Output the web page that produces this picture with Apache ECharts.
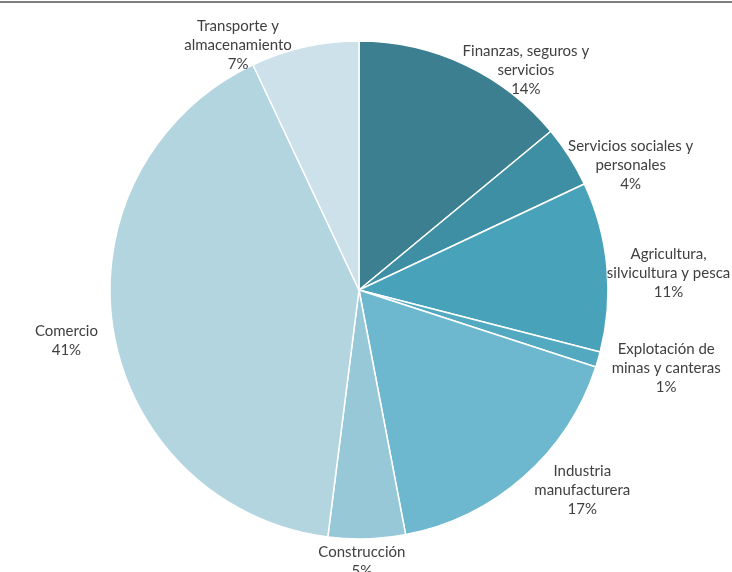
<!DOCTYPE html>
<html>
<head>
<meta charset="utf-8">
<script src="https://cdn.jsdelivr.net/npm/echarts@6/dist/echarts.min.js"></script>
<style>html,body{margin:0;padding:0;background:#fff}#c{width:732px;height:572px}</style>
</head>
<body>
<div id="c"></div>
<script>
const categories = ['Finanzas, seguros y\nservicios','Servicios sociales y\npersonales','Agricultura,\nsilvicultura y pesca','Explotación de\nminas y canteras','Industria\nmanufacturera','Construcción','Comercio','Transporte y\nalmacenamiento'];
const values = [14, 4, 11, 1, 17, 5, 41, 7];
const colors = ['#3b7f91','#3e8fa4','#48a2b9','#52a9c0','#6db8cf','#96c8d8','#b3d5e0','#cce1e9'];
// label placement: angular shift (deg) from slice mid-angle and distance from centre (px)
const labelAngleShift = [12, 7.7, 2.3, -1.9, -6.7, 1.2, -0.9, -13.7];
const labelDist = [276, 299, 310, 317, 300, 272, 297, 273];

const CX = 359, CY = 290, R = 249;
const total = values.reduce((a,b)=>a+b,0);
const mids = [];
let acc = 0;
values.forEach(v => { mids.push((acc + v/2)/total*360); acc += v; });

const chart = echarts.init(document.getElementById('c'));
chart.setOption({
  animation: false,
  graphic: [{type:'rect', shape:{x:0,y:1,width:732,height:2}, style:{fill:'#7f7f7f'}}],
  series: [{
    type: 'pie',
    center: [CX, CY],
    radius: [0, R],
    startAngle: 90,
    clockwise: true,
    avoidLabelOverlap: false,
    itemStyle: {borderColor:'#ffffff', borderWidth: 1.5},
    label: {
      show: true,
      position: 'outside',
      formatter: p => p.name + '\n' + p.value + '%',
      fontFamily: 'Lato',
      fontSize: 15,
      lineHeight: 19,
      color: '#404040',
      align: 'center'
    },
    labelLine: {show: false},
    labelLayout: function (params) {
      const i = params.dataIndex;
      const a = (mids[i] + labelAngleShift[i]) * Math.PI / 180;
      return {
        x: CX + labelDist[i] * Math.sin(a),
        y: CY - labelDist[i] * Math.cos(a),
        align: 'center',
        verticalAlign: 'middle'
      };
    },
    data: categories.map((c, i) => ({name: c, value: values[i], itemStyle: {color: colors[i]}}))
  }]
});
</script>
</body>
</html>
